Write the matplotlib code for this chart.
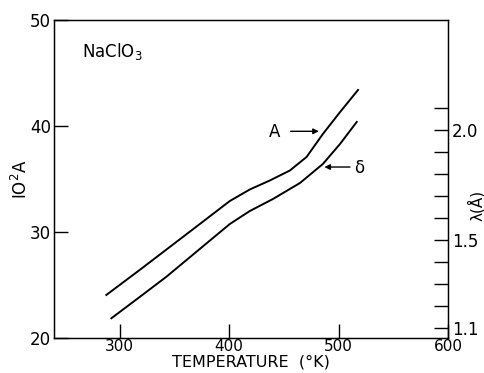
import matplotlib
matplotlib.use("Agg")
import matplotlib.pyplot as plt

# Data
temp_A = [287.8, 318.3, 345.7, 373.2, 400.6, 418.9, 437.2, 455.5, 470.8, 485.7, 501.4, 517.8]
val_A = [24.06, 26.42, 28.58, 30.75, 32.92, 34.01, 34.86, 35.80, 37.08, 39.25, 41.32, 43.40]
temp_d = [292.4, 318.3, 342.7, 373.2, 400.6, 418.9, 440.0, 464.7, 485.7, 501.3, 516.6]
val_d = [21.86, 23.87, 25.78, 28.40, 30.75, 31.98, 33.11, 34.62, 36.42, 38.30, 40.38]

x_ticks = [300, 400, 500, 600]
y_ticks = [20, 30, 40, 50]
right_ticks = [1.1, 1.2, 1.3, 1.4, 1.5, 1.6, 1.7, 1.8, 1.9, 2.0, 2.1]
right_labels = ["1.1", "", "", "", "1.5", "", "", "", "", "2.0", ""]

plt.rcParams['font.family'] = ['DejaVu Sans']
fig = plt.figure(figsize=(4.84, 3.73), dpi=100)
ax = fig.add_axes([54/484, 1-338/373, (448-54)/484, (338-20)/373])

ax.plot(temp_A, val_A, color='black', lw=1.4, solid_joinstyle='round')
ax.plot(temp_d, val_d, color='black', lw=1.4, solid_joinstyle='round')

ax.set_xlim(240, 600)
ax.set_ylim(20, 50)
ax.set_xticks(x_ticks)
ax.set_yticks(y_ticks)
ax.tick_params(direction='in', length=10, width=1, labelsize=12, pad=2)
ax.tick_params(axis='x', labelsize=11, pad=1)
for s in ax.spines.values():
    s.set_linewidth(1)

ax.set_xlabel("TEMPERATURE  (°K)", fontsize=11.5, labelpad=0)
ax.set_ylabel("IO$^2$A", fontsize=12, labelpad=-1)

ax2 = ax.twinx()
ax2.set_ylim(1.0545, 2.5)
ax2.set_yticks(right_ticks)
ax2.set_yticklabels(right_labels)
ax2.tick_params(direction='in', length=10, width=1, labelsize=12, pad=3)

ax.text(266, 47.0, "NaClO$_3$", fontsize=12, va='center', ha='left')
ax.text(441.8, 39.45, "A", fontsize=12, va='center', ha='center')
ax.annotate("", xy=(484.5, 39.5), xytext=(453.7, 39.5),
            arrowprops=dict(arrowstyle='-|>', color='black', lw=1, mutation_scale=8))
ax.text(518.7, 36.05, "δ", fontsize=12, va='center', ha='center')
ax.annotate("", xy=(484.5, 36.13), xytext=(513, 36.13),
            arrowprops=dict(arrowstyle='-|>', color='black', lw=1, mutation_scale=8))

fig.text(476/484, 1-205/373, "λ(Å)", rotation=90, fontsize=11, ha='center', va='center')

fig.savefig("out.png", dpi=100)
